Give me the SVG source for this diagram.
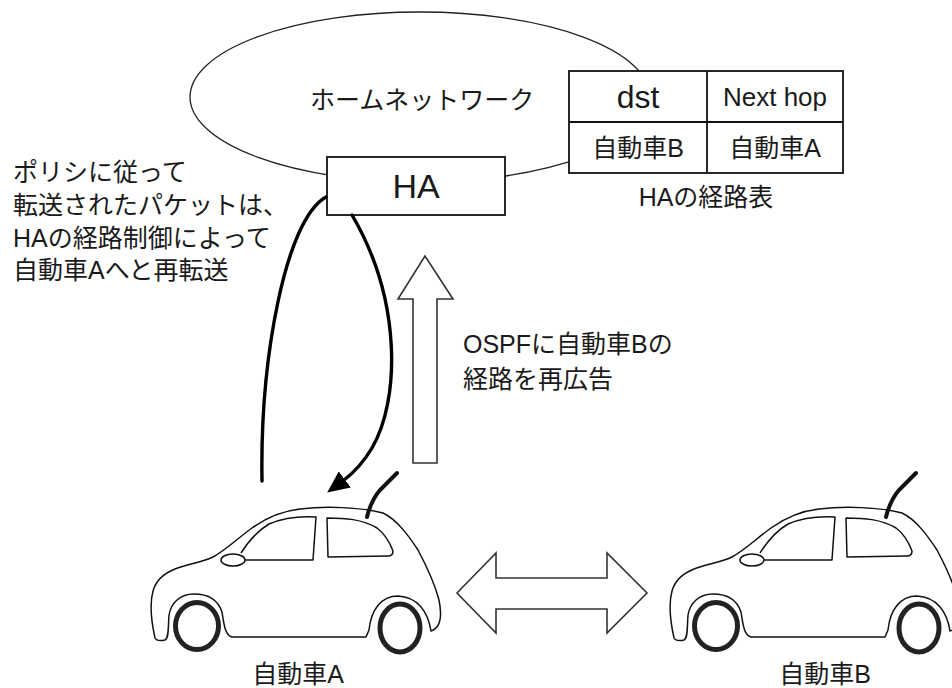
<svg xmlns="http://www.w3.org/2000/svg" xmlns:xlink="http://www.w3.org/1999/xlink" width="952" height="688" viewBox="0 0 952 688">
  <style>
    text { font-family: "Liberation Sans", "Noto Sans CJK JP", sans-serif; fill: #1a1a1a; }
    .t24 { font-size: 25px; }
    .mid { text-anchor: middle; }
    .thin { fill: #fff; stroke: #222; stroke-width: 1.3; }
    .box { fill: #fff; stroke: #111; stroke-width: 1.8; }
    .block { fill: #fff; stroke: #333; stroke-width: 1.6; stroke-linejoin: miter; }
    .flow { fill: none; stroke: #000; stroke-width: 3.4; stroke-linecap: round; }
    .body { fill: #fff; stroke: #111; stroke-width: 1.5; stroke-linejoin: round; }
    .tyre { fill: #fff; stroke: #222; stroke-width: 5; }
    .aerial { fill: none; stroke: #111; stroke-width: 4; stroke-linecap: round; }
  </style>
  <defs>
    <marker id="head" viewBox="0 0 22 20" markerWidth="22" markerHeight="20" refX="1" refY="10" orient="auto" markerUnits="userSpaceOnUse">
      <path d="M0,0 L22,10 L0,20 Z" fill="#000"/>
    </marker>
    <!-- small hatchback seen from the side, bonnet to the left -->
    <g id="car">
      <path class="body" d="M155,638 C151,620 150,602 153,591 C156,580 165,573 175,569 C188,564 203,562 213,557 C226,550 238,538 252,528 C266,518 282,511 300,509 C325,506 360,507 383,513 C398,520 410,538 418,550 C426,565 435,585 439,600 C442,615 441,628 431,631 C428,612 418,597 398,596 C381,596 371,610 369,630 L366,637 L232,637 C225,635 224,625 222,612 C218,600 208,594 194,594 C180,594 171,603 169,615 C168,628 169,638 165,640 C160,641 156,640 155,638 Z"/>
      <ellipse class="tyre" cx="197" cy="626" rx="21.5" ry="23.5"/>
      <ellipse class="tyre" cx="400" cy="628" rx="20" ry="24"/>
      <path class="body" d="M244,560 L313,560 L316,517 C298,516 283,518 269,524 C257,531 248,542 241,553"/>
      <path class="body" d="M327,518 C345,518 362,519 377,528 C385,534 390,543 393,551 C393,555 391,556 388,556 L328,557 Z"/>
      <ellipse class="body" cx="233" cy="560" rx="12" ry="6"/>
      <path class="aerial" d="M367,517 C370,505 374,497 380,490 L397,473"/>
    </g>
  </defs>

  <rect width="952" height="688" fill="#fff"/>

  <!-- home network cloud -->
  <g id="home-network">
    <ellipse class="thin" cx="420" cy="97" rx="230" ry="85"/>
    <text class="t24" x="310" y="109">ホームネットワーク</text>
  </g>

  <!-- routing table of the HA -->
  <g id="route-table">
    <rect class="box" x="569" y="71" width="274" height="102"/>
    <line class="box" x1="707" y1="71" x2="707" y2="173"/>
    <line class="box" x1="569" y1="122" x2="843" y2="122"/>
    <text class="mid" x="638" y="108" font-size="32">dst</text>
    <text class="mid" x="775" y="106" font-size="26">Next hop</text>
    <text class="t24 mid" x="638" y="157">自動車B</text>
    <text class="t24 mid" x="775" y="157">自動車A</text>
    <text class="t24 mid" x="706" y="206">HAの経路表</text>
  </g>

  <!-- home agent -->
  <g id="ha">
    <rect class="box" x="327" y="157" width="178" height="58"/>
    <text class="mid" x="416" y="198" font-size="34">HA</text>
  </g>

  <!-- explanatory notes -->
  <g id="note-forward">
    <text class="t24" x="13" y="181">ポリシに従って</text>
    <text class="t24" x="13" y="214">転送されたパケットは、</text>
    <text class="t24" x="13" y="247">HAの経路制御によって</text>
    <text class="t24" x="13" y="279">自動車Aへと再転送</text>
  </g>
  <g id="note-ospf">
    <text class="t24" x="463" y="353">OSPFに自動車Bの</text>
    <text class="t24" x="463" y="388">経路を再広告</text>
  </g>

  <!-- vehicles -->
  <g id="car-a">
    <use xlink:href="#car" href="#car"/>
    <text class="t24 mid" x="298" y="683">自動車A</text>
  </g>
  <g id="car-b">
    <use xlink:href="#car" href="#car" transform="translate(519,0)"/>
    <text class="t24 mid" x="825" y="683">自動車B</text>
  </g>

  <!-- connectors -->
  <g id="connectors">
    <path class="flow" d="M262,481 C260,360 285,220 326,197"/>
    <path class="flow" d="M352,215 C402,300 400,400 372,448 Q360,468 344,480" marker-end="url(#head)"/>
    <polygon class="block" points="413,463 437,463 437,299 453,299 425,256 398,299 413,299"/>
    <polygon class="block" points="457,593 496,553 496,578 607,578 607,553 647,593 607,633 607,609 496,609 496,633"/>
  </g>
</svg>
